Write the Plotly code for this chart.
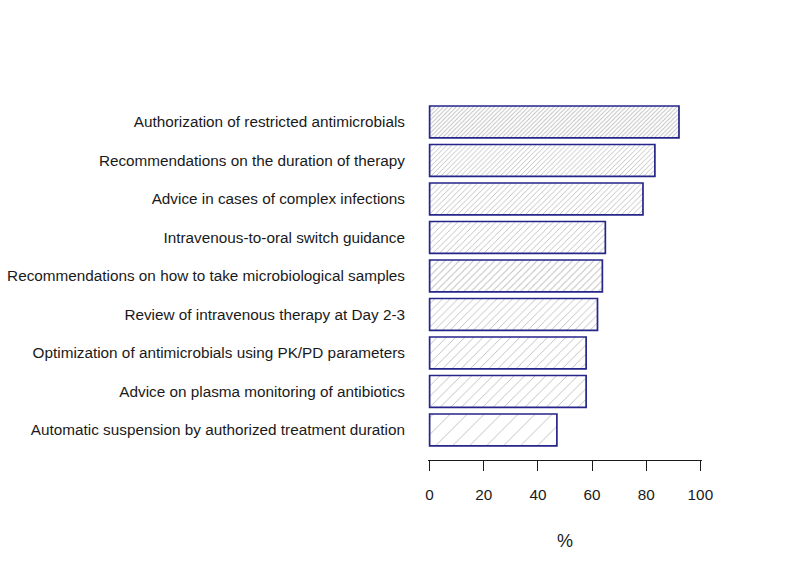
import plotly.graph_objects as go

categories = [
    "Authorization of restricted antimicrobials",
    "Recommendations on the duration of therapy",
    "Advice in cases of complex infections",
    "Intravenous-to-oral switch guidance",
    "Recommendations on how to take microbiological samples",
    "Review of intravenous therapy at Day 2-3",
    "Optimization of antimicrobials using PK/PD parameters",
    "Advice on plasma monitoring of antibiotics",
    "Automatic suspension by authorized treatment duration",
]
values = [92.1, 83.2, 78.8, 64.9, 63.8, 62.0, 57.8, 57.8, 47.0]
hatch_sizes = [3, 3.5, 4, 4.5, 5, 5.5, 6.5, 7.5, 12]
hatch_solidity = [0.3, 0.26, 0.23, 0.2, 0.18, 0.16, 0.14, 0.12, 0.075]
x_ticks = [0, 20, 40, 60, 80, 100]

fig = go.Figure(go.Bar(
    x=values,
    y=categories,
    orientation="h",
    width=0.83,
    marker=dict(
        color="white",
        line=dict(color="#25258a", width=1.7),
        pattern=dict(shape="/", size=hatch_sizes, solidity=hatch_solidity,
                     fgcolor="#7a7a7a", bgcolor="white"),
    ),
    hoverinfo="x+y",
))

fig.update_layout(
    width=794, height=575,
    margin=dict(l=428, r=92, t=80, b=115),
    paper_bgcolor="white", plot_bgcolor="white",
    font=dict(family="Liberation Sans, Arial, sans-serif", size=15.3, color="#1a1a1a"),
    showlegend=False,
    xaxis=dict(
        range=[-0.6, 100.6],
        tickvals=x_ticks,
        ticks="outside", ticklen=10, tickwidth=1, tickcolor="#1a1a1a",
        showline=True, linecolor="#1a1a1a", linewidth=1,
        showgrid=False, zeroline=False, automargin=False,
        ticklabelstandoff=11,
        title=dict(text="%", font=dict(size=18), standoff=32),
    ),
    yaxis=dict(
        type="category",
        categoryorder="array", categoryarray=categories,
        range=[8.78, -1.09],
        showline=False, showgrid=False, zeroline=False, automargin=False,
        ticks="", ticklabelstandoff=22,
    ),
)

fig.write_html("out.html")
